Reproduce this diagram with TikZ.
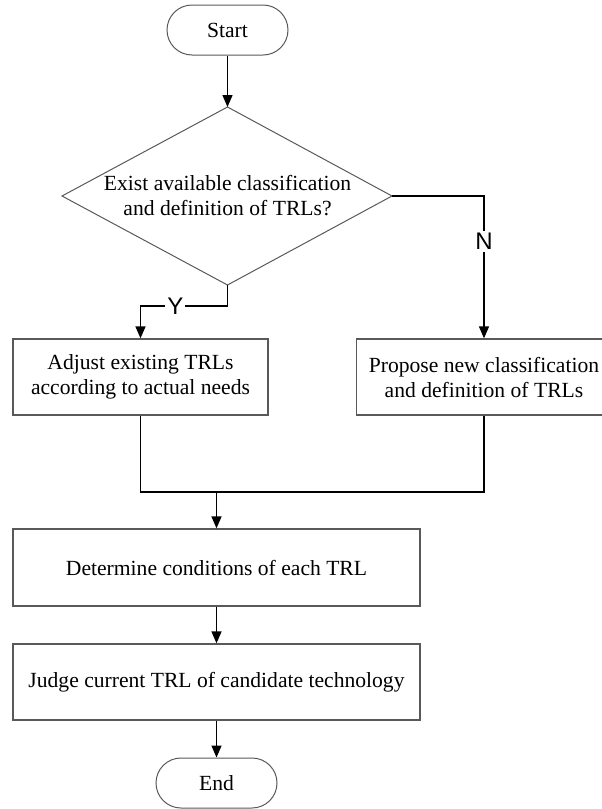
\documentclass[tikz,border=0pt]{standalone}
\usepackage{fontspec}
\setmainfont{Liberation Serif}
\newfontfamily\labfont{Liberation Sans}
\usetikzlibrary{arrows.meta}
\begin{document}
\begin{tikzpicture}[x=1pt,y=-1pt,
 txt/.style={font=\fontsize{21.6}{25}\selectfont, text=black},
 box/.style={txt,draw=black!65,line width=1.3pt,rectangle,minimum width=255pt,minimum height=76pt,inner sep=0pt,align=center},
 term/.style={txt,draw=black!65,line width=1pt,rounded corners=25pt,minimum width=121pt,minimum height=50pt,inner sep=0pt},
 decline/.style={draw=black!65,line width=1pt},
 conn/.style={line width=1.4pt,-{Triangle[length=12pt,width=10pt]}},
 plain/.style={line width=1.4pt},
 lab/.style={font=\labfont\fontsize{24}{24}\selectfont, fill=white, inner sep=2pt}
]
\useasboundingbox (0,0) rectangle (602,809);
\node[term] (start) at (227.5,30) {Start};
\coordinate (dt) at (227.5,107);
\coordinate (db) at (227.5,285);
\coordinate (dl) at (62,196);
\coordinate (dr) at (392,196);
\draw[decline] (dt) -- (dr) -- (db) -- (dl) -- cycle;
\node[txt,align=center] (dec) at (227.5,196) {Exist available classification\\and definition of TRLs?};
\node[box] (adj) at (140.5,377) {Adjust existing TRLs\\according to actual needs};
\node[box] (prop) at (484,377) {Propose new classification\\and definition of TRLs};
\node[box, minimum width=407pt, minimum height=77pt] (det) at (216.5,567.5) {Determine conditions of each TRL};
\node[box, minimum width=407pt] (judge) at (216.5,682) {Judge current TRL of candidate technology};
\node[term] (end) at (216.5,783) {End};

\coordinate (yb) at (227.5,306);
\coordinate (m) at (216.5,492);

\draw[conn] (start) -- (dt);
\draw[conn] (db) -- (yb) -- node[lab,pos=0.6]{Y} (yb -| adj.north) -- (adj.north);
\draw[conn] (dr) -| node[lab,pos=0.66]{N} (prop.north);
\draw[plain] (adj.south) -- (adj.south |- m) -- (prop.south |- m) -- (prop.south);
\draw[conn] (m) -- (det.north);
\draw[conn] (det) -- (judge);
\draw[conn] (judge) -- (end);
\end{tikzpicture}
\end{document}
